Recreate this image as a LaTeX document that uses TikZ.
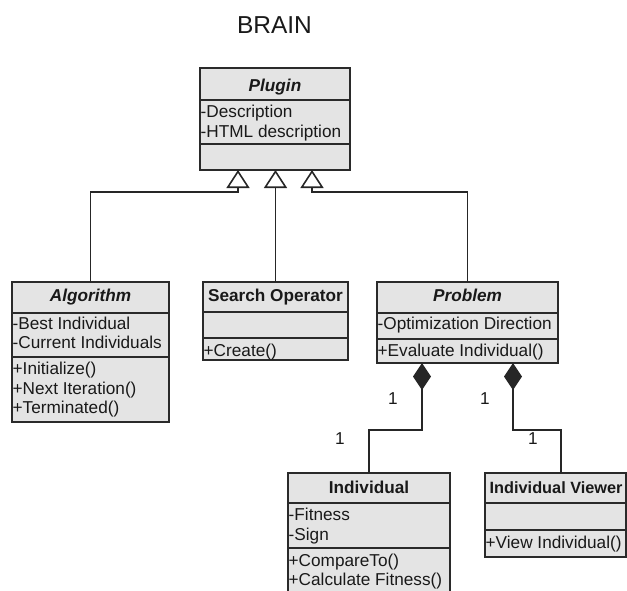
\documentclass[tikz,border=0pt]{standalone}
\usepackage{fontspec}
\setmainfont{Liberation Sans}
\usetikzlibrary{arrows.meta}
\definecolor{boxfill}{HTML}{E4E4E4}
\definecolor{boxline}{HTML}{2A2A2A}
\begin{document}
\begin{tikzpicture}[x=1pt,y=-1pt,
  umlbox/.style={draw=boxline, fill=boxfill, line width=1.6pt, rectangle, inner sep=0pt, outer sep=0pt, anchor=north west},
  sepline/.style={draw=boxline, line width=1.6pt},
  ttl/.style={font=\fontsize{17.2}{20}\selectfont\bfseries, inner sep=0pt, anchor=base, text=black!90},
  itm/.style={font=\fontsize{17.2}{20}\selectfont, inner sep=0pt, anchor=base west, text=black!90},
  mult/.style={font=\fontsize{17.2}{20}\selectfont, inner sep=0pt, anchor=base, text=black!90},
  gen/.style={draw=black!85, line width=1.6pt, -{Triangle[open, length=18pt, width=23pt]}},
  comp/.style={draw=black!85, line width=1.6pt, -{Diamond[length=27pt, width=18pt]}}
]
\clip (0,0) rectangle (627,590);
\useasboundingbox (0,0) rectangle (627,590);

% title
\node[font=\fontsize{24.5}{28}\selectfont, inner sep=0pt, anchor=base, text=black!90] (brain) at (274.5,33.5) {BRAIN};

% Plugin
\node[umlbox, minimum width=150pt, minimum height=102pt] (plugin) at (200,68) {};
\draw[sepline] (200,100) -- (350,100);
\draw[sepline] (200,144) -- (350,144);
\node[ttl] (plugin-t) at (275,91) {\itshape Plugin};
\node[itm] (plugin-a1) at (200.5,117) {-Description};
\node[itm] (plugin-a2) at (200.5,137) {-HTML description};

% Algorithm
\node[umlbox, minimum width=157pt, minimum height=140pt] (alg) at (12,282) {};
\draw[sepline] (12,313) -- (169,313);
\draw[sepline] (12,357) -- (169,357);
\node[ttl] (alg-t) at (90.5,301) {\itshape Algorithm};
\node[itm] (alg-a1) at (12.5,329) {-Best Individual};
\node[itm] (alg-a2) at (12.5,348) {-Current Individuals};
\node[itm] (alg-m1) at (12.5,374) {+Initialize()};
\node[itm] (alg-m2) at (12.5,394) {+Next Iteration()};
\node[itm] (alg-m3) at (12.5,413) {+Terminated()};

% Search Operator
\node[umlbox, minimum width=145pt, minimum height=78pt] (so) at (203,282) {};
\draw[sepline] (203,312) -- (348,312);
\draw[sepline] (203,338) -- (348,338);
\node[ttl] (so-t) at (275.5,301) {Search Operator};
\node[itm] (so-m1) at (203.5,356) {+Create()};

% Problem
\node[umlbox, minimum width=181pt, minimum height=81pt] (prob) at (377,282) {};
\draw[sepline] (377,313) -- (558,313);
\draw[sepline] (377,339) -- (558,339);
\node[ttl] (prob-t) at (467.5,301) {\itshape Problem};
\node[itm] (prob-a1) at (377.5,329) {-Optimization Direction};
\node[itm] (prob-m1) at (377.5,356) {+Evaluate Individual()};

% Individual
\node[umlbox, minimum width=162pt, minimum height=130pt] (ind) at (288,473) {};
\draw[sepline] (288,503) -- (450,503);
\draw[sepline] (288,548) -- (450,548);
\node[ttl] (ind-t) at (369,493) {Individual};
\node[itm] (ind-a1) at (288.5,520) {-Fitness};
\node[itm] (ind-a2) at (288.5,540) {-Sign};
\node[itm] (ind-m1) at (288.5,566) {+CompareTo()};
\node[itm] (ind-m2) at (288.5,585) {+Calculate Fitness()};

% Individual Viewer
\node[umlbox, minimum width=141pt, minimum height=84pt] (indv) at (485,473) {};
\draw[sepline] (485,503) -- (626,503);
\draw[sepline] (485,530) -- (626,530);
\node[ttl, anchor=base west, font=\fontsize{16.3}{20}\selectfont\bfseries] (indv-t) at (489.5,493) {Individual Viewer};
\node[itm] (indv-m1) at (485.5,548) {+View Individual()};

% generalization connectors
\coordinate (t1) at (238,170);
\coordinate (t2) at (275.5,170);
\coordinate (t3) at (312,170);
\coordinate (g1) at (238,192);
\coordinate (g3) at (312,192);
\draw[gen] (alg.north) |- (g1) -- (t1);
\draw[gen] (so.north) -- (t2);
\draw[gen] (prob.north) |- (g3) -- (t3);

% composition connectors
\coordinate (d1) at (422,363);
\coordinate (d2) at (513,363);
\coordinate (c1) at (422,430);
\coordinate (c2) at (513,430);
\coordinate (vtop) at (561,473);
\draw[comp] (ind.north) |- (c1) -- (d1);
\draw[comp] (vtop) |- (c2) -- (d2);

% multiplicities
\node[mult] (m1) at (393,404) {1};
\node[mult] (m2) at (485,404) {1};
\node[mult] (m3) at (340,444) {1};
\node[mult] (m4) at (533,444) {1};
\end{tikzpicture}
\end{document}
